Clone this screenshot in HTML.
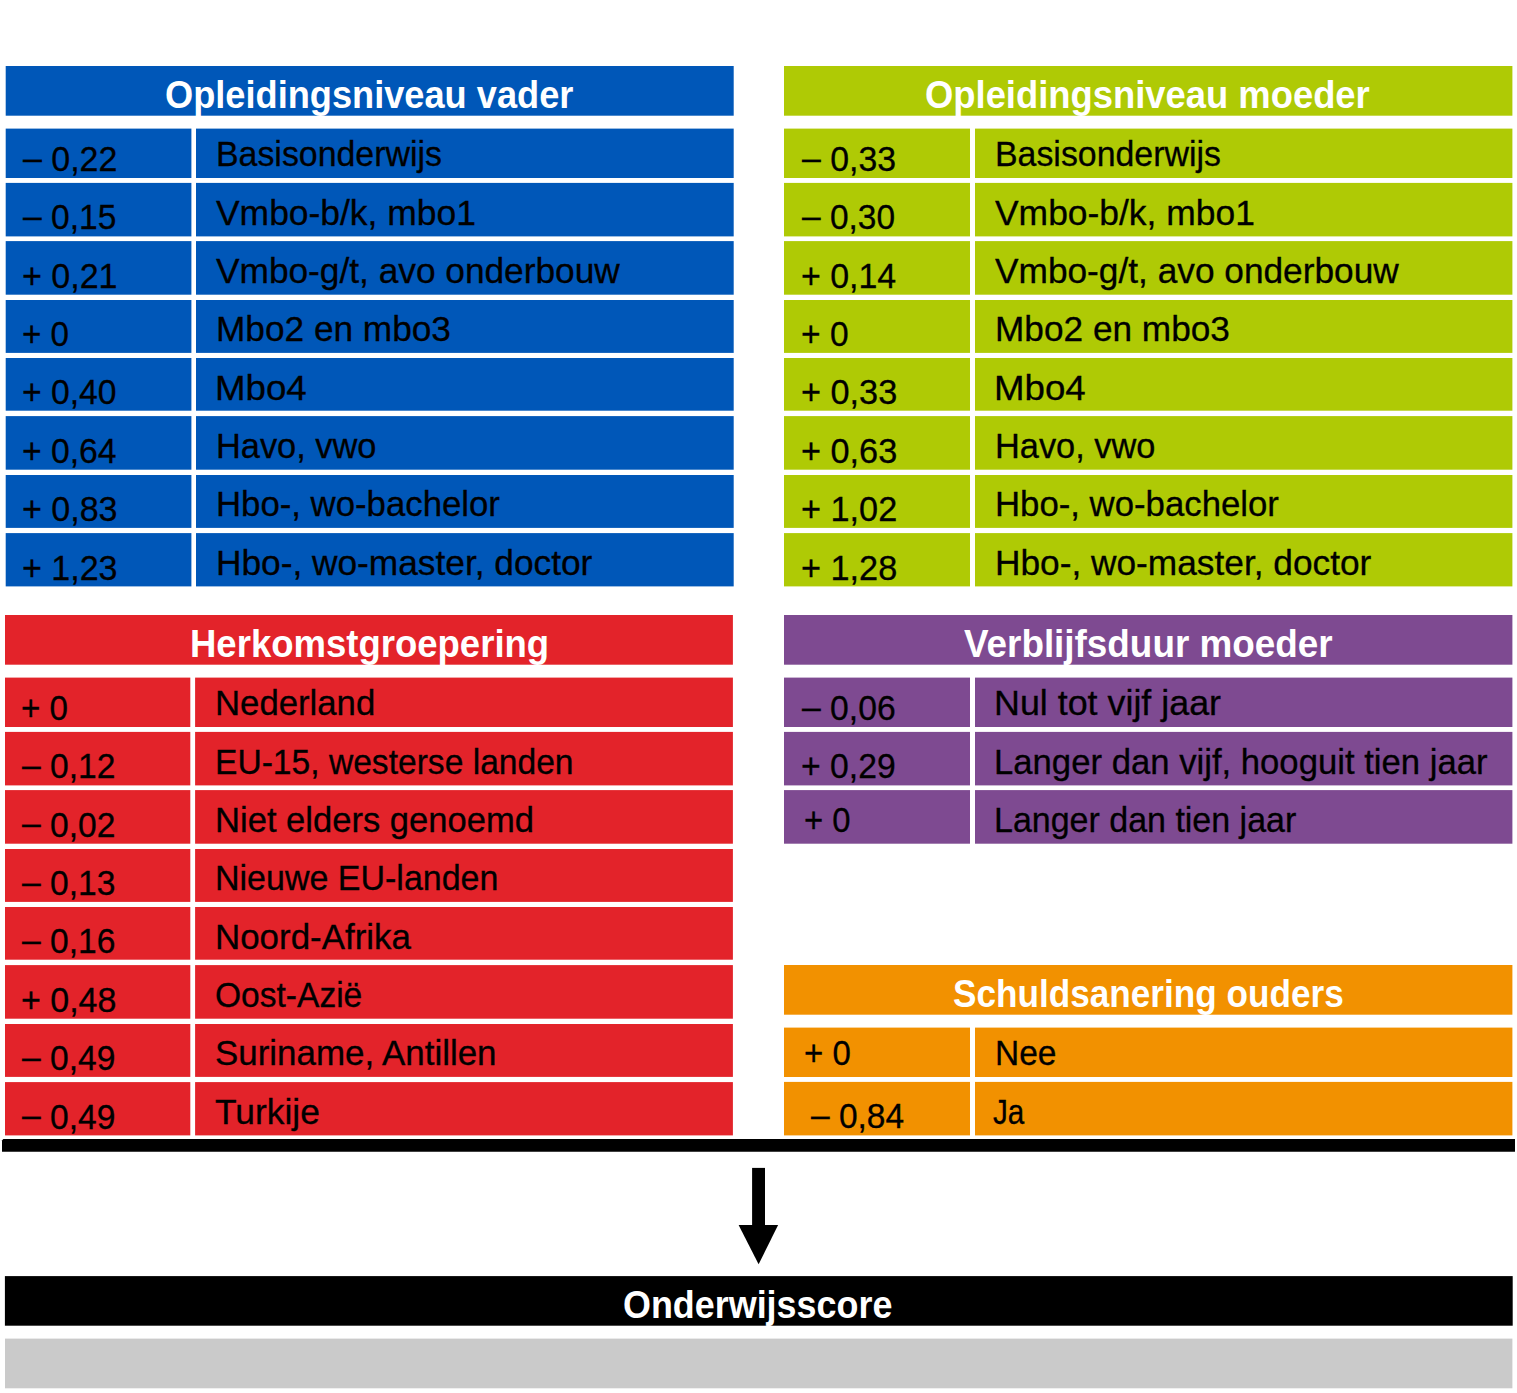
<!DOCTYPE html>
<html><head><meta charset="utf-8"><style>
html,body{margin:0;padding:0;background:#fff;}
body{width:1517px;height:1393px;position:relative;overflow:hidden;font-family:"Liberation Sans",sans-serif;}
.b{position:absolute;}
.t{position:absolute;white-space:nowrap;transform-origin:0 0;}
.k{-webkit-text-stroke:0.3px #000;}
.d{position:relative;top:-1.5px;}
</style></head><body>
<svg class="b" style="left:0;top:0" width="1517" height="1393"><rect x="5.7" y="66" width="728.0" height="49.7" fill="#0057b8"/><rect x="5.7" y="128.6" width="185.7" height="49.4" fill="#0057b8"/><rect x="196" y="128.6" width="537.7" height="49.4" fill="#0057b8"/><rect x="5.7" y="182.9" width="185.7" height="53.5" fill="#0057b8"/><rect x="196" y="182.9" width="537.7" height="53.5" fill="#0057b8"/><rect x="5.7" y="241.1" width="185.7" height="53.6" fill="#0057b8"/><rect x="196" y="241.1" width="537.7" height="53.6" fill="#0057b8"/><rect x="5.7" y="300" width="185.7" height="52.9" fill="#0057b8"/><rect x="196" y="300" width="537.7" height="52.9" fill="#0057b8"/><rect x="5.7" y="358" width="185.7" height="52.7" fill="#0057b8"/><rect x="196" y="358" width="537.7" height="52.7" fill="#0057b8"/><rect x="5.7" y="416.1" width="185.7" height="53.6" fill="#0057b8"/><rect x="196" y="416.1" width="537.7" height="53.6" fill="#0057b8"/><rect x="5.7" y="475" width="185.7" height="52.9" fill="#0057b8"/><rect x="196" y="475" width="537.7" height="52.9" fill="#0057b8"/><rect x="5.7" y="533.1" width="185.7" height="53.3" fill="#0057b8"/><rect x="196" y="533.1" width="537.7" height="53.3" fill="#0057b8"/><rect x="784" y="66" width="728.4" height="49.7" fill="#afca05"/><rect x="784" y="128.6" width="186" height="49.4" fill="#afca05"/><rect x="975" y="128.6" width="537.4" height="49.4" fill="#afca05"/><rect x="784" y="182.9" width="186" height="53.5" fill="#afca05"/><rect x="975" y="182.9" width="537.4" height="53.5" fill="#afca05"/><rect x="784" y="241.1" width="186" height="53.6" fill="#afca05"/><rect x="975" y="241.1" width="537.4" height="53.6" fill="#afca05"/><rect x="784" y="300" width="186" height="52.9" fill="#afca05"/><rect x="975" y="300" width="537.4" height="52.9" fill="#afca05"/><rect x="784" y="358" width="186" height="52.7" fill="#afca05"/><rect x="975" y="358" width="537.4" height="52.7" fill="#afca05"/><rect x="784" y="416.1" width="186" height="53.6" fill="#afca05"/><rect x="975" y="416.1" width="537.4" height="53.6" fill="#afca05"/><rect x="784" y="475" width="186" height="52.9" fill="#afca05"/><rect x="975" y="475" width="537.4" height="52.9" fill="#afca05"/><rect x="784" y="533.1" width="186" height="53.3" fill="#afca05"/><rect x="975" y="533.1" width="537.4" height="53.3" fill="#afca05"/><rect x="5" y="615" width="727.9" height="49.7" fill="#e3232a"/><rect x="5" y="677.6" width="185.3" height="49.4" fill="#e3232a"/><rect x="195.1" y="677.6" width="537.8" height="49.4" fill="#e3232a"/><rect x="5" y="731.9" width="185.3" height="53.5" fill="#e3232a"/><rect x="195.1" y="731.9" width="537.8" height="53.5" fill="#e3232a"/><rect x="5" y="790.1" width="185.3" height="53.6" fill="#e3232a"/><rect x="195.1" y="790.1" width="537.8" height="53.6" fill="#e3232a"/><rect x="5" y="849" width="185.3" height="52.9" fill="#e3232a"/><rect x="195.1" y="849" width="537.8" height="52.9" fill="#e3232a"/><rect x="5" y="907" width="185.3" height="52.7" fill="#e3232a"/><rect x="195.1" y="907" width="537.8" height="52.7" fill="#e3232a"/><rect x="5" y="965.1" width="185.3" height="53.6" fill="#e3232a"/><rect x="195.1" y="965.1" width="537.8" height="53.6" fill="#e3232a"/><rect x="5" y="1024" width="185.3" height="52.9" fill="#e3232a"/><rect x="195.1" y="1024" width="537.8" height="52.9" fill="#e3232a"/><rect x="5" y="1082.1" width="185.3" height="53.3" fill="#e3232a"/><rect x="195.1" y="1082.1" width="537.8" height="53.3" fill="#e3232a"/><rect x="784" y="615" width="728.4" height="49.7" fill="#7e4a91"/><rect x="784" y="677.6" width="186" height="49.4" fill="#7e4a91"/><rect x="975" y="677.6" width="537.4" height="49.4" fill="#7e4a91"/><rect x="784" y="731.9" width="186" height="53.5" fill="#7e4a91"/><rect x="975" y="731.9" width="537.4" height="53.5" fill="#7e4a91"/><rect x="784" y="790.1" width="186" height="53.6" fill="#7e4a91"/><rect x="975" y="790.1" width="537.4" height="53.6" fill="#7e4a91"/><rect x="784" y="965" width="728.4" height="49.7" fill="#f29100"/><rect x="784" y="1027.6" width="186" height="49.4" fill="#f29100"/><rect x="975" y="1027.6" width="537.4" height="49.4" fill="#f29100"/><rect x="784" y="1081.9" width="186" height="53.5" fill="#f29100"/><rect x="975" y="1081.9" width="537.4" height="53.5" fill="#f29100"/><path d="M2,1140.4 L3.4,1138.9 L1515,1138.9 L1515,1151.7 L2,1151.7 Z" fill="#000"/><rect x="752.1" y="1167.9" width="12.9" height="58" fill="#000"/><polygon points="738.6,1225 778.1,1225 758.6,1264.3" fill="#000"/><rect x="4.9" y="1276.1" width="1507.8" height="49.6" fill="#000"/><rect x="5" y="1338.6" width="1507.4" height="49.7" fill="#cacaca"/></svg>
<div class="t" style="left:165.19px;top:75.9px;font-size:38px;line-height:38px;font-weight:bold;color:#fff;transform:scaleX(0.9526)">Opleidingsniveau vader</div>
<div class="t k" style="left:215.65px;top:137.2px;font-size:34.5px;line-height:34.5px;color:#000;transform:scaleX(0.9819)">Basisonderwijs</div>
<div class="t k" style="left:22.8px;top:142.0px;font-size:34.5px;line-height:34.5px;color:#000;transform:scaleX(0.9830)"><span class="d">–</span> 0,22</div>
<div class="t k" style="left:216.4px;top:195.56px;font-size:34.5px;line-height:34.5px;color:#000;transform:scaleX(1.0266)">Vmbo-b/k, mbo1</div>
<div class="t k" style="left:22.8px;top:200.36px;font-size:34.5px;line-height:34.5px;color:#000;transform:scaleX(0.9726)"><span class="d">–</span> 0,15</div>
<div class="t k" style="left:216.4px;top:253.92px;font-size:34.5px;line-height:34.5px;color:#000;transform:scaleX(1.0220)">Vmbo-g/t, avo onderbouw</div>
<div class="t k" style="left:22.13px;top:258.72px;font-size:34.5px;line-height:34.5px;color:#000;transform:scaleX(0.9860)">+ 0,21</div>
<div class="t k" style="left:215.54px;top:312.28px;font-size:34.5px;line-height:34.5px;color:#000;transform:scaleX(1.0208)">Mbo2 en mbo3</div>
<div class="t k" style="left:22.18px;top:317.08px;font-size:34.5px;line-height:34.5px;color:#000;transform:scaleX(0.9609)">+ 0</div>
<div class="t k" style="left:215.41px;top:370.64px;font-size:34.5px;line-height:34.5px;color:#000;transform:scaleX(1.0634)">Mbo4</div>
<div class="t k" style="left:22.15px;top:375.44px;font-size:34.5px;line-height:34.5px;color:#000;transform:scaleX(0.9755)">+ 0,40</div>
<div class="t k" style="left:215.61px;top:429.0px;font-size:34.5px;line-height:34.5px;color:#000;transform:scaleX(0.9962)">Havo, vwo</div>
<div class="t k" style="left:22.15px;top:433.8px;font-size:34.5px;line-height:34.5px;color:#000;transform:scaleX(0.9755)">+ 0,64</div>
<div class="t k" style="left:215.58px;top:487.36px;font-size:34.5px;line-height:34.5px;color:#000;transform:scaleX(1.0072)">Hbo-, wo-bachelor</div>
<div class="t k" style="left:22.13px;top:492.16px;font-size:34.5px;line-height:34.5px;color:#000;transform:scaleX(0.9860)">+ 0,83</div>
<div class="t k" style="left:215.53px;top:545.72px;font-size:34.5px;line-height:34.5px;color:#000;transform:scaleX(1.0222)">Hbo-, wo-master, doctor</div>
<div class="t k" style="left:22.13px;top:550.52px;font-size:34.5px;line-height:34.5px;color:#000;transform:scaleX(0.9860)">+ 1,23</div>
<div class="t" style="left:925.49px;top:75.9px;font-size:38px;line-height:38px;font-weight:bold;color:#fff;transform:scaleX(0.9574)">Opleidingsniveau moeder</div>
<div class="t k" style="left:994.65px;top:137.2px;font-size:34.5px;line-height:34.5px;color:#000;transform:scaleX(0.9819)">Basisonderwijs</div>
<div class="t k" style="left:801.6px;top:142.0px;font-size:34.5px;line-height:34.5px;color:#000;transform:scaleX(0.9798)"><span class="d">–</span> 0,33</div>
<div class="t k" style="left:995.4px;top:195.56px;font-size:34.5px;line-height:34.5px;color:#000;transform:scaleX(1.0266)">Vmbo-b/k, mbo1</div>
<div class="t k" style="left:801.6px;top:200.36px;font-size:34.5px;line-height:34.5px;color:#000;transform:scaleX(0.9695)"><span class="d">–</span> 0,30</div>
<div class="t k" style="left:995.4px;top:253.92px;font-size:34.5px;line-height:34.5px;color:#000;transform:scaleX(1.0220)">Vmbo-g/t, avo onderbouw</div>
<div class="t k" style="left:800.83px;top:258.72px;font-size:34.5px;line-height:34.5px;color:#000;transform:scaleX(0.9830)">+ 0,14</div>
<div class="t k" style="left:994.54px;top:312.28px;font-size:34.5px;line-height:34.5px;color:#000;transform:scaleX(1.0208)">Mbo2 en mbo3</div>
<div class="t k" style="left:800.86px;top:317.08px;font-size:34.5px;line-height:34.5px;color:#000;transform:scaleX(0.9717)">+ 0</div>
<div class="t k" style="left:994.41px;top:370.64px;font-size:34.5px;line-height:34.5px;color:#000;transform:scaleX(1.0634)">Mbo4</div>
<div class="t k" style="left:800.81px;top:375.44px;font-size:34.5px;line-height:34.5px;color:#000;transform:scaleX(0.9935)">+ 0,33</div>
<div class="t k" style="left:994.61px;top:429.0px;font-size:34.5px;line-height:34.5px;color:#000;transform:scaleX(0.9962)">Havo, vwo</div>
<div class="t k" style="left:800.81px;top:433.8px;font-size:34.5px;line-height:34.5px;color:#000;transform:scaleX(0.9935)">+ 0,63</div>
<div class="t k" style="left:994.58px;top:487.36px;font-size:34.5px;line-height:34.5px;color:#000;transform:scaleX(1.0072)">Hbo-, wo-bachelor</div>
<div class="t k" style="left:800.81px;top:492.16px;font-size:34.5px;line-height:34.5px;color:#000;transform:scaleX(0.9935)">+ 1,02</div>
<div class="t k" style="left:994.53px;top:545.72px;font-size:34.5px;line-height:34.5px;color:#000;transform:scaleX(1.0222)">Hbo-, wo-master, doctor</div>
<div class="t k" style="left:800.81px;top:550.52px;font-size:34.5px;line-height:34.5px;color:#000;transform:scaleX(0.9935)">+ 1,28</div>
<div class="t" style="left:189.52px;top:624.9px;font-size:38px;line-height:38px;font-weight:bold;color:#fff;transform:scaleX(0.9609)">Herkomstgroepering</div>
<div class="t k" style="left:214.98px;top:686.2px;font-size:34.5px;line-height:34.5px;color:#000;transform:scaleX(1.0065)">Nederland</div>
<div class="t k" style="left:20.98px;top:691.0px;font-size:34.5px;line-height:34.5px;color:#000;transform:scaleX(0.9609)">+ 0</div>
<div class="t k" style="left:215.08px;top:744.56px;font-size:34.5px;line-height:34.5px;color:#000;transform:scaleX(0.9738)">EU-15, westerse landen</div>
<div class="t k" style="left:22.1px;top:749.36px;font-size:34.5px;line-height:34.5px;color:#000;transform:scaleX(0.9734)"><span class="d">–</span> 0,12</div>
<div class="t k" style="left:214.99px;top:802.92px;font-size:34.5px;line-height:34.5px;color:#000;transform:scaleX(1.0022)">Niet elders genoemd</div>
<div class="t k" style="left:22.1px;top:807.72px;font-size:34.5px;line-height:34.5px;color:#000;transform:scaleX(0.9734)"><span class="d">–</span> 0,02</div>
<div class="t k" style="left:215.04px;top:861.28px;font-size:34.5px;line-height:34.5px;color:#000;transform:scaleX(0.9852)">Nieuwe EU-landen</div>
<div class="t k" style="left:22.1px;top:866.08px;font-size:34.5px;line-height:34.5px;color:#000;transform:scaleX(0.9734)"><span class="d">–</span> 0,13</div>
<div class="t k" style="left:214.97px;top:919.64px;font-size:34.5px;line-height:34.5px;color:#000;transform:scaleX(1.0115)">Noord-Afrika</div>
<div class="t k" style="left:22.1px;top:924.44px;font-size:34.5px;line-height:34.5px;color:#000;transform:scaleX(0.9734)"><span class="d">–</span> 0,16</div>
<div class="t k" style="left:215.26px;top:978.0px;font-size:34.5px;line-height:34.5px;color:#000;transform:scaleX(0.9723)">Oost-Azië</div>
<div class="t k" style="left:20.93px;top:982.8px;font-size:34.5px;line-height:34.5px;color:#000;transform:scaleX(0.9849)">+ 0,48</div>
<div class="t k" style="left:214.58px;top:1036.36px;font-size:34.5px;line-height:34.5px;color:#000;transform:scaleX(1.0124)">Suriname, Antillen</div>
<div class="t k" style="left:22.1px;top:1041.16px;font-size:34.5px;line-height:34.5px;color:#000;transform:scaleX(0.9734)"><span class="d">–</span> 0,49</div>
<div class="t k" style="left:214.98px;top:1094.72px;font-size:34.5px;line-height:34.5px;color:#000;transform:scaleX(1.0250)">Turkije</div>
<div class="t k" style="left:22.1px;top:1099.52px;font-size:34.5px;line-height:34.5px;color:#000;transform:scaleX(0.9734)"><span class="d">–</span> 0,49</div>
<div class="t" style="left:963.5px;top:624.9px;font-size:38px;line-height:38px;font-weight:bold;color:#fff;transform:scaleX(0.9697)">Verblijfsduur moeder</div>
<div class="t k" style="left:994.28px;top:686.2px;font-size:34.5px;line-height:34.5px;color:#000;transform:scaleX(1.0386)">Nul tot vijf jaar</div>
<div class="t k" style="left:801.8px;top:691.0px;font-size:34.5px;line-height:34.5px;color:#000;transform:scaleX(0.9766)"><span class="d">–</span> 0,06</div>
<div class="t k" style="left:994.38px;top:744.56px;font-size:34.5px;line-height:34.5px;color:#000;transform:scaleX(1.0053)">Langer dan vijf, hooguit tien jaar</div>
<div class="t k" style="left:801.15px;top:749.36px;font-size:34.5px;line-height:34.5px;color:#000;transform:scaleX(0.9774)">+ 0,29</div>
<div class="t k" style="left:994.45px;top:802.92px;font-size:34.5px;line-height:34.5px;color:#000;transform:scaleX(0.9849)">Langer dan tien jaar</div>
<div class="t k" style="left:804.2px;top:802.92px;font-size:34.5px;line-height:34.5px;color:#000;transform:scaleX(0.9522)">+ 0</div>
<div class="t" style="left:952.77px;top:974.9px;font-size:38px;line-height:38px;font-weight:bold;color:#fff;transform:scaleX(0.9252)">Schuldsanering ouders</div>
<div class="t k" style="left:994.99px;top:1036.2px;font-size:34.5px;line-height:34.5px;color:#000;transform:scaleX(0.9695)">Nee</div>
<div class="t k" style="left:803.79px;top:1036.2px;font-size:34.5px;line-height:34.5px;color:#000;transform:scaleX(0.9565)">+ 0</div>
<div class="t k" style="left:992.81px;top:1094.56px;font-size:34.5px;line-height:34.5px;color:#000;transform:scaleX(0.8600)">Ja</div>
<div class="t k" style="left:810.7px;top:1099.36px;font-size:34.5px;line-height:34.5px;color:#000;transform:scaleX(0.9705)"><span class="d">–</span> 0,84</div>
<div class="t" style="left:623.41px;top:1286px;font-size:38px;line-height:38px;font-weight:bold;color:#fff;transform:scaleX(0.9447)">Onderwijsscore</div>
</body></html>
